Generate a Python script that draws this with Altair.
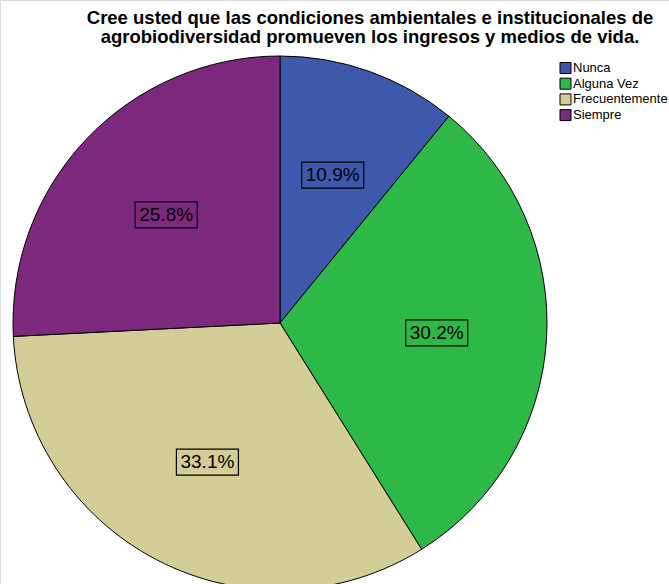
import altair as alt
import pandas as pd

categories = ["Nunca", "Alguna Vez", "Frecuentemente", "Siempre"]
values = [10.9, 30.2, 33.1, 25.8]
colors = ["#3E58AC", "#2EB848", "#D3CE97", "#7C287D"]
title_lines = [
    "Cree usted que las condiciones ambientales e institucionales de",
    "agrobiodiversidad promueven los ingresos y medios de vida.",
]

df = pd.DataFrame({"category": categories, "value": values, "idx": list(range(len(categories)))})

CX, CY, R, LR = 280, 323, 267, 157
W, H = 669, 584
color_scale = alt.Scale(domain=categories, range=colors)

base = alt.Chart(df)

pie = base.mark_arc(outerRadius=R, stroke="black", strokeWidth=1).encode(
    x=alt.value(CX),
    y=alt.value(CY),
    theta=alt.Theta("value:Q", stack=True),
    color=alt.Color("category:N", scale=color_scale, legend=None),
    order=alt.Order("idx:Q"),
)

lab = base.transform_window(
    cum="sum(value)", sort=[alt.SortField("idx")], frame=[None, 0]
).transform_joinaggregate(total="sum(value)").transform_calculate(
    mid="2*PI*(datum.cum - datum.value/2)/datum.total",
    lx=f"{CX} + {LR}*sin(datum.mid)",
    ly=f"{CY} - {LR}*cos(datum.mid)",
    x1="datum.lx - 31",
    x2="datum.lx + 31",
    y1="datum.ly - 13",
    y2="datum.ly + 13",
    txt="format(datum.value, '.1f') + '%'",
)

boxes = lab.mark_rect(fill=None, stroke="black", strokeWidth=1.2, filled=False).encode(
    x=alt.X("x1:Q", scale=None),
    x2="x2:Q",
    y=alt.Y("y1:Q", scale=None),
    y2="y2:Q",
)

texts = lab.mark_text(font="Liberation Sans", fontSize=19, color="black", baseline="middle", align="center").encode(
    x=alt.X("lx:Q", scale=None),
    y=alt.Y("ly:Q", scale=None),
    text="txt:N",
)

# legend drawn manually
leg = base.transform_calculate(
    ly="68 + 15.7*datum.idx",
    sy1="datum.ly - 5.5",
    sy2="datum.ly + 5.5",
)
leg_sym = leg.mark_rect(stroke="black", strokeWidth=1).encode(
    x=alt.value(560),
    x2=alt.value(571),
    y=alt.Y("sy1:Q", scale=None),
    y2="sy2:Q",
    color=alt.Color("category:N", scale=color_scale, legend=None),
)
leg_txt = leg.mark_text(font="Liberation Sans", fontSize=13, color="black", baseline="middle", align="left").encode(
    x=alt.value(573),
    y=alt.Y("ly:Q", scale=None),
    text="category:N",
)

tdf = pd.DataFrame({"line": title_lines, "n": [0, 1]})
title = alt.Chart(tdf).mark_text(
    font="Liberation Sans", fontSize=18.5, fontWeight="bold", color="black", baseline="middle", align="center"
).transform_calculate(ty="18 + 18.5*datum.n").encode(
    x=alt.value(370),
    y=alt.Y("ty:Q", scale=None),
    text="line:N",
)

chart = alt.layer(pie, boxes, texts, leg_sym, leg_txt, title).properties(
    width=W, height=H, autosize=alt.AutoSizeParams(type="none"), padding=0
).configure_view(stroke=None).configure(background="white")

chart.save("out.html", embed_options={"renderer": "svg", "actions": False})
